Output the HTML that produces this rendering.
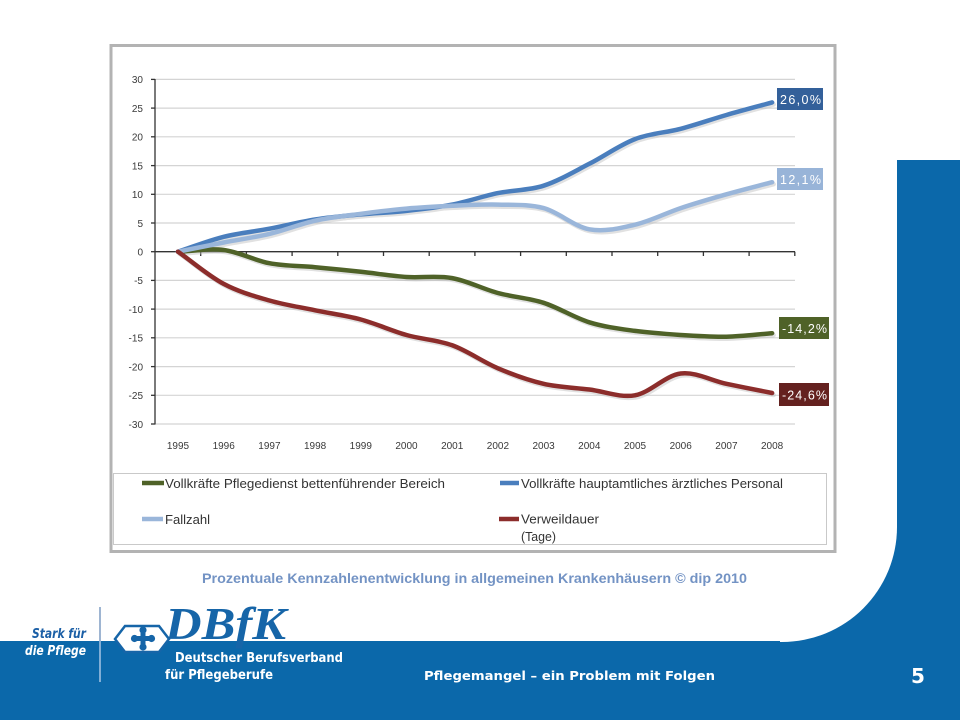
<!DOCTYPE html>
<html><head><meta charset="utf-8"><style>
html,body{margin:0;padding:0;background:#fff;}
svg{display:block;}
</style></head><body>
<svg width="960" height="720" viewBox="0 0 960 720" xmlns="http://www.w3.org/2000/svg">
<!-- background blue shapes -->
<rect x="0" y="0" width="960" height="720" fill="#fff"/>
<rect x="780" y="160" width="180" height="560" fill="#0b68aa"/>
<rect x="0" y="641" width="960" height="79" fill="#0b68aa"/>
<path d="M0,0 H897 V527 A115,115 0 0 1 782,642 H0 Z" fill="#fff"/>
<rect x="0" y="641" width="780" height="79" fill="#0b68aa"/>

<!-- chart frame -->
<rect x="111" y="45.5" width="724" height="506" fill="#fff" stroke="#b3b3b3" stroke-width="3"/>

<!-- gridlines -->
<g stroke="#d4d4d4" stroke-width="1.2">
<line x1="155" y1="79.4" x2="795" y2="79.4"/>
<line x1="155" y1="108.1" x2="795" y2="108.1"/>
<line x1="155" y1="136.8" x2="795" y2="136.8"/>
<line x1="155" y1="165.6" x2="795" y2="165.6"/>
<line x1="155" y1="194.3" x2="795" y2="194.3"/>
<line x1="155" y1="223.0" x2="795" y2="223.0"/>
<line x1="155" y1="280.4" x2="795" y2="280.4"/>
<line x1="155" y1="309.1" x2="795" y2="309.1"/>
<line x1="155" y1="337.8" x2="795" y2="337.8"/>
<line x1="155" y1="366.6" x2="795" y2="366.6"/>
<line x1="155" y1="395.3" x2="795" y2="395.3"/>
<line x1="155" y1="424.0" x2="795" y2="424.0"/>
</g>
<!-- axes -->
<g stroke="#333" stroke-width="1.3">
<line x1="155" y1="79" x2="155" y2="424.5"/>
<line x1="155" y1="251.7" x2="795" y2="251.7"/>
<line x1="151" y1="79.4" x2="155" y2="79.4"/>
<line x1="151" y1="108.1" x2="155" y2="108.1"/>
<line x1="151" y1="136.8" x2="155" y2="136.8"/>
<line x1="151" y1="165.6" x2="155" y2="165.6"/>
<line x1="151" y1="194.3" x2="155" y2="194.3"/>
<line x1="151" y1="223.0" x2="155" y2="223.0"/>
<line x1="151" y1="251.7" x2="155" y2="251.7"/>
<line x1="151" y1="280.4" x2="155" y2="280.4"/>
<line x1="151" y1="309.1" x2="155" y2="309.1"/>
<line x1="151" y1="337.8" x2="155" y2="337.8"/>
<line x1="151" y1="366.6" x2="155" y2="366.6"/>
<line x1="151" y1="395.3" x2="155" y2="395.3"/>
<line x1="151" y1="424.0" x2="155" y2="424.0"/>
<line x1="200.7" y1="251.7" x2="200.7" y2="256"/>
<line x1="246.4" y1="251.7" x2="246.4" y2="256"/>
<line x1="292.1" y1="251.7" x2="292.1" y2="256"/>
<line x1="337.8" y1="251.7" x2="337.8" y2="256"/>
<line x1="383.5" y1="251.7" x2="383.5" y2="256"/>
<line x1="429.2" y1="251.7" x2="429.2" y2="256"/>
<line x1="474.9" y1="251.7" x2="474.9" y2="256"/>
<line x1="520.6" y1="251.7" x2="520.6" y2="256"/>
<line x1="566.3" y1="251.7" x2="566.3" y2="256"/>
<line x1="612.0" y1="251.7" x2="612.0" y2="256"/>
<line x1="657.7" y1="251.7" x2="657.7" y2="256"/>
<line x1="703.4" y1="251.7" x2="703.4" y2="256"/>
<line x1="749.1" y1="251.7" x2="749.1" y2="256"/>
<line x1="794.8" y1="251.7" x2="794.8" y2="256"/>
</g>

<!-- y labels -->
<g font-family="Liberation Sans, sans-serif" font-size="10" fill="#3a3a3a" text-anchor="end">
<text x="143" y="83">30</text>
<text x="143" y="112">25</text>
<text x="143" y="140.5">20</text>
<text x="143" y="169.5">15</text>
<text x="143" y="198">10</text>
<text x="143" y="227">5</text>
<text x="143" y="255.5">0</text>
<text x="143" y="284">-5</text>
<text x="143" y="313">-10</text>
<text x="143" y="341.5">-15</text>
<text x="143" y="370.5">-20</text>
<text x="143" y="399">-25</text>
<text x="143" y="428">-30</text>
</g>
<!-- x labels -->
<g font-family="Liberation Sans, sans-serif" font-size="10" fill="#3a3a3a" text-anchor="middle">
<text x="178.0" y="449">1995</text>
<text x="223.7" y="449">1996</text>
<text x="269.4" y="449">1997</text>
<text x="315.1" y="449">1998</text>
<text x="360.8" y="449">1999</text>
<text x="406.5" y="449">2000</text>
<text x="452.2" y="449">2001</text>
<text x="497.9" y="449">2002</text>
<text x="543.6" y="449">2003</text>
<text x="589.3" y="449">2004</text>
<text x="635.0" y="449">2005</text>
<text x="680.7" y="449">2006</text>
<text x="726.4" y="449">2007</text>
<text x="772.1" y="449">2008</text>
</g>

<!-- series -->
<g fill="none" stroke-width="4.5" stroke-linecap="round" stroke-linejoin="round">
<!-- shadows -->
<g stroke="#bdbdbd" opacity="0.45" transform="translate(1.5,2)">
<path d="M178,251.7 C193.2,251.1 208.5,248.1 223.7,250.0 S254.2,260.3 269.4,263.2 S299.9,265.8 315.1,267.2 S345.6,270.2 360.8,271.8 S391.3,276.0 406.5,277.0 S437.0,275.4 452.2,278.1 S482.7,288.9 497.9,293.0 S528.4,297.9 543.6,302.8 S574.1,317.6 589.3,322.3 S619.8,328.8 635.0,330.9 S665.5,334.0 680.7,335.0 S711.2,337.0 726.4,336.7 S756.9,334.4 772.1,333.2"/>
<path d="M178,251.7 C193.2,246.7 208.5,240.6 223.7,236.8 S254.2,231.6 269.4,228.7 S299.9,221.9 315.1,219.5 S345.6,215.8 360.8,214.4 S391.3,212.5 406.5,210.9 S437.0,207.6 452.2,204.6 S482.7,196.3 497.9,193.1 S528.4,190.6 543.6,185.7 S574.1,171.6 589.3,163.8 S619.8,144.9 635.0,139.1 S665.5,132.8 680.7,128.8 S711.2,119.4 726.4,115.0 S756.9,106.6 772.1,102.4"/>
<path d="M178,251.7 C193.2,248.6 208.5,245.5 223.7,242.5 S254.2,237.5 269.4,233.9 S299.9,224.1 315.1,220.7 S345.6,215.8 360.8,213.8 S391.3,209.9 406.5,208.6 S437.0,206.5 452.2,205.8 S482.7,204.2 497.9,204.6 S528.4,204.0 543.6,208.1 S574.1,226.5 589.3,229.3 S619.8,228.2 635.0,224.7 S665.5,213.2 680.7,208.1 S711.2,198.6 726.4,194.3 S756.9,186.2 772.1,182.2"/>
<path d="M178,251.7 C193.2,262.4 208.5,275.8 223.7,283.9 S254.2,296.1 269.4,300.5 S299.9,307.1 315.1,310.3 S345.6,315.4 360.8,319.5 S391.3,330.7 406.5,335.0 S437.0,339.8 452.2,345.3 S482.7,361.9 497.9,368.3 S528.4,380.3 543.6,383.8 S574.1,387.6 589.3,389.5 S619.8,398.0 635.0,395.3 S665.5,375.4 680.7,373.5 S711.2,380.6 726.4,383.8 S756.9,389.9 772.1,393.0"/>
</g>
<!-- green -->
<path stroke="#4f6228" d="M178,251.7 C193.2,251.1 208.5,248.1 223.7,250.0 S254.2,260.3 269.4,263.2 S299.9,265.8 315.1,267.2 S345.6,270.2 360.8,271.8 S391.3,276.0 406.5,277.0 S437.0,275.4 452.2,278.1 S482.7,288.9 497.9,293.0 S528.4,297.9 543.6,302.8 S574.1,317.6 589.3,322.3 S619.8,328.8 635.0,330.9 S665.5,334.0 680.7,335.0 S711.2,337.0 726.4,336.7 S756.9,334.4 772.1,333.2"/>
<!-- dark blue -->
<path stroke="#4a7ebd" d="M178,251.7 C193.2,246.7 208.5,240.6 223.7,236.8 S254.2,231.6 269.4,228.7 S299.9,221.9 315.1,219.5 S345.6,215.8 360.8,214.4 S391.3,212.5 406.5,210.9 S437.0,207.6 452.2,204.6 S482.7,196.3 497.9,193.1 S528.4,190.6 543.6,185.7 S574.1,171.6 589.3,163.8 S619.8,144.9 635.0,139.1 S665.5,132.8 680.7,128.8 S711.2,119.4 726.4,115.0 S756.9,106.6 772.1,102.4"/>
<!-- light blue -->
<path stroke="#9ab6da" d="M178,251.7 C193.2,248.6 208.5,245.5 223.7,242.5 S254.2,237.5 269.4,233.9 S299.9,224.1 315.1,220.7 S345.6,215.8 360.8,213.8 S391.3,209.9 406.5,208.6 S437.0,206.5 452.2,205.8 S482.7,204.2 497.9,204.6 S528.4,204.0 543.6,208.1 S574.1,226.5 589.3,229.3 S619.8,228.2 635.0,224.7 S665.5,213.2 680.7,208.1 S711.2,198.6 726.4,194.3 S756.9,186.2 772.1,182.2"/>
<!-- red -->
<path stroke="#8c2d2b" d="M178,251.7 C193.2,262.4 208.5,275.8 223.7,283.9 S254.2,296.1 269.4,300.5 S299.9,307.1 315.1,310.3 S345.6,315.4 360.8,319.5 S391.3,330.7 406.5,335.0 S437.0,339.8 452.2,345.3 S482.7,361.9 497.9,368.3 S528.4,380.3 543.6,383.8 S574.1,387.6 589.3,389.5 S619.8,398.0 635.0,395.3 S665.5,375.4 680.7,373.5 S711.2,380.6 726.4,383.8 S756.9,389.9 772.1,393.0"/>
</g>

<!-- end labels -->
<g font-family="Liberation Sans, sans-serif" font-size="12.5" fill="#fff">
<rect x="777" y="88" width="46" height="22" fill="#33609a"/>
<text x="780" y="104" textLength="41">26,0%</text>
<rect x="777" y="168" width="46" height="22" fill="#98b4d8"/>
<text x="780" y="184" textLength="41">12,1%</text>
<rect x="779" y="317" width="50" height="22" fill="#4f6228"/>
<text x="782" y="333" textLength="45">-14,2%</text>
<rect x="779" y="383" width="50" height="23" fill="#64211f"/>
<text x="782" y="399.5" textLength="45">-24,6%</text>
</g>

<!-- legend -->
<rect x="113.5" y="473.5" width="713" height="71" fill="#fff" stroke="#c9c9c9" stroke-width="1"/>
<g stroke-width="4.5">
<line x1="142" y1="483" x2="164" y2="483" stroke="#4f6228"/>
<line x1="500" y1="483" x2="519" y2="483" stroke="#4a7ebd"/>
<line x1="142" y1="519" x2="163" y2="519" stroke="#9ab6da"/>
<line x1="499" y1="519" x2="519" y2="519" stroke="#8c2d2b"/>
</g>
<g font-family="Liberation Sans, sans-serif" font-size="13" fill="#333">
<text x="165" y="488" textLength="280" lengthAdjust="spacingAndGlyphs">Vollkräfte Pflegedienst bettenführender Bereich</text>
<text x="521" y="488" textLength="262" lengthAdjust="spacingAndGlyphs">Vollkräfte hauptamtliches ärztliches Personal</text>
<text x="165" y="524" textLength="45" lengthAdjust="spacingAndGlyphs">Fallzahl</text>
<text x="521" y="523.5" textLength="78" lengthAdjust="spacingAndGlyphs">Verweildauer</text>
<text x="521" y="541" textLength="35" lengthAdjust="spacingAndGlyphs">(Tage)</text>
</g>

<!-- caption -->
<text x="202" y="583" font-family="Liberation Sans, sans-serif" font-size="14" font-weight="bold" fill="#7393c4" textLength="545" lengthAdjust="spacingAndGlyphs">Prozentuale Kennzahlenentwicklung in allgemeinen Krankenhäusern © dip 2010</text>

<!-- logo left -->
<text x="32" y="638" font-family="DejaVu Sans, sans-serif" font-size="13" font-weight="bold" font-style="italic" fill="#1b5fa6" textLength="54" lengthAdjust="spacingAndGlyphs">Stark für</text>
<text x="25" y="655" font-family="DejaVu Sans, sans-serif" font-size="13" font-weight="bold" font-style="italic" fill="#fff" textLength="61" lengthAdjust="spacingAndGlyphs">die Pflege</text>
<line x1="100" y1="607" x2="100" y2="641" stroke="#7d9cc2" stroke-width="1.5"/>
<line x1="100" y1="641" x2="100" y2="682" stroke="#a9c6e4" stroke-width="1.5"/>

<!-- DBfK -->
<text x="165" y="639" font-family="Liberation Serif, serif" font-size="46" font-weight="bold" font-style="italic" fill="#1665a8" textLength="121" lengthAdjust="spacingAndGlyphs">DBfK</text>
<polygon points="115,639 125,626 159,626 169,639 159,652 125,652" fill="#fff" stroke="#1665a8" stroke-width="2.5"/>
<g fill="#1665a8">
<rect x="140.5" y="630" width="5" height="17"/>
<rect x="134.5" y="636" width="17" height="5"/>
<circle cx="143" cy="630" r="3.6"/>
<circle cx="143" cy="647" r="3.6"/>
<circle cx="134.5" cy="638.5" r="3.6"/>
<circle cx="151.5" cy="638.5" r="3.6"/>
</g>
<text x="175" y="662" font-family="DejaVu Sans, sans-serif" font-size="13" font-weight="bold" fill="#fff" textLength="168" lengthAdjust="spacingAndGlyphs">Deutscher Berufsverband</text>
<text x="165" y="679" font-family="DejaVu Sans, sans-serif" font-size="13" font-weight="bold" fill="#fff" textLength="108" lengthAdjust="spacingAndGlyphs">für Pflegeberufe</text>

<!-- footer -->
<text x="424" y="680" font-family="DejaVu Sans, sans-serif" font-size="12" font-weight="bold" fill="#fff" textLength="291" lengthAdjust="spacingAndGlyphs">Pflegemangel – ein Problem mit Folgen</text>
<text x="911" y="683" font-family="DejaVu Sans, sans-serif" font-size="20" font-weight="bold" fill="#fff">5</text>
</svg>
</body></html>
